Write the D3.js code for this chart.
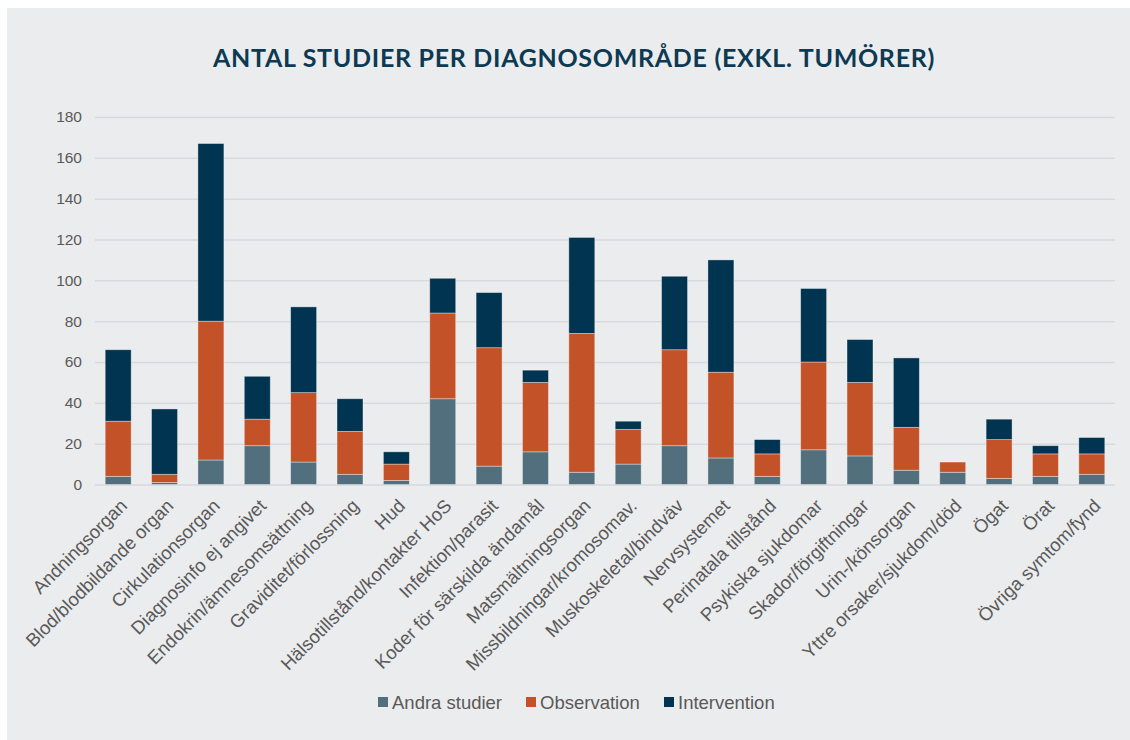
<!DOCTYPE html>
<html>
<head>
<meta charset="utf-8">
<script src="https://cdn.jsdelivr.net/npm/d3@7"></script>
<style>
  body { margin: 0; background: #fff; }
  svg { display: block; }
</style>
</head>
<body>
<svg width="1130" height="740"></svg>
<script>
// diagnosområden (x-axis)
const categories = [
  "Andningsorgan", "Blod/blodbildande organ", "Cirkulationsorgan", "Diagnosinfo ej angivet",
  "Endokrin/ämnesomsättning", "Graviditet/förlossning", "Hud", "Hälsotillstånd/kontakter HoS",
  "Infektion/parasit", "Koder för särskilda ändamål", "Matsmältningsorgan",
  "Missbildningar/kromosomav.", "Muskoskeletal/bindväv", "Nervsystemet", "Perinatala tillstånd",
  "Psykiska sjukdomar", "Skador/förgiftningar", "Urin-/könsorgan", "Yttre orsaker/sjukdom/död",
  "Ögat", "Örat", "Övriga symtom/fynd"
];
const seriesNames = ["Andra studier", "Observation", "Intervention"];
const andraStudier = [4, 1, 12, 19, 11, 5, 2, 42, 9, 16, 6, 10, 19, 13, 4, 17, 14, 7, 6, 3, 4, 5];
const observation  = [27, 4, 68, 13, 34, 21, 8, 42, 58, 34, 68, 17, 47, 42, 11, 43, 36, 21, 5, 19, 11, 10];
const intervention = [35, 32, 87, 21, 42, 16, 6, 17, 27, 6, 47, 4, 36, 55, 7, 36, 21, 34, 0, 10, 4, 8];
const yTicks = [0, 20, 40, 60, 80, 100, 120, 140, 160, 180];

const svg = d3.select("svg");
const W = 1130, H = 740;
const margin = {top: 117, right: 15, bottom: 255, left: 95};

// panel
svg.append("rect").attr("x", 7).attr("y", 8).attr("width", W - 7).attr("height", H - 8)
  .attr("fill", "#ebecee");

svg.append("text")
  .attr("x", 574).attr("y", 67)
  .attr("text-anchor", "middle")
  .attr("font-family", "Lato, 'Open Sans', sans-serif")
  .attr("font-weight", "bold")
  .attr("font-size", 25)
  .attr("letter-spacing", 0.7)
  .attr("fill", "#0d3a52")
  .text("ANTAL STUDIER PER DIAGNOSOMRÅDE (EXKL. TUMÖRER)");

const table = categories.map((c, i) => ({
  cat: c,
  "Andra studier": andraStudier[i],
  "Observation": observation[i],
  "Intervention": intervention[i]
}));
const stacked = d3.stack().keys(seriesNames)(table);

const x = d3.scaleBand()
  .domain(categories)
  .range([margin.left, W - margin.right])
  .paddingInner(0.44)
  .paddingOuter(0.22);

const y = d3.scaleLinear()
  .domain([0, 180])
  .range([H - margin.bottom - 0.5, margin.top]);

const color = d3.scaleOrdinal()
  .domain(seriesNames)
  .range(["#526f7e", "#c45228", "#003450"]);

// gridlines + y labels
const yAxis = svg.append("g")
  .attr("transform", "translate(" + margin.left + ",0)")
  .call(d3.axisLeft(y).tickValues(yTicks).tickSize(-(W - margin.left - margin.right)).tickPadding(13));
yAxis.select(".domain").remove();
yAxis.selectAll(".tick line").attr("stroke", "#d7d9dc").attr("stroke-width", 1.5);
yAxis.selectAll(".tick text")
  .attr("font-family", "'Liberation Sans', Arial, sans-serif")
  .attr("font-size", 15.5)
  .attr("fill", "#595959");

// bars
svg.append("g")
  .selectAll("g")
  .data(stacked)
  .enter().append("g")
  .attr("fill", d => color(d.key))
  .selectAll("rect")
  .data(d => d)
  .enter().append("rect")
  .attr("x", d => x(d.data.cat))
  .attr("y", d => y(d[1]))
  .attr("width", x.bandwidth())
  .attr("height", d => Math.max(0, y(d[0]) - y(d[1])))
  .attr("stroke", "#ffffff")
  .attr("stroke-opacity", 0.45)
  .attr("stroke-width", 0.8);

// x labels
const xAxis = svg.append("g")
  .attr("transform", "translate(0," + (H - margin.bottom) + ")")
  .call(d3.axisBottom(x).tickSize(0).tickPadding(0));
xAxis.select(".domain").remove();
xAxis.selectAll(".tick text")
  .attr("font-family", "'Liberation Sans', Arial, sans-serif")
  .attr("font-size", 18.5)
  .attr("fill", "#595959")
  .attr("text-anchor", "end")
  .attr("dy", null)
  .attr("y", 0)
  .attr("transform", "translate(10,22) rotate(-45)");

// legend
const legendX = [378, 526, 664];
const legend = svg.append("g")
  .selectAll("g")
  .data(seriesNames)
  .enter().append("g")
  .attr("transform", (d, i) => "translate(" + legendX[i] + ",697)");
legend.append("rect")
  .attr("width", 10).attr("height", 10)
  .attr("fill", d => color(d));
legend.append("text")
  .attr("x", 14).attr("y", 11.5)
  .attr("font-family", "'Liberation Sans', Arial, sans-serif")
  .attr("font-size", 18.5)
  .attr("fill", "#595959")
  .text(d => d);
</script>
</body>
</html>
